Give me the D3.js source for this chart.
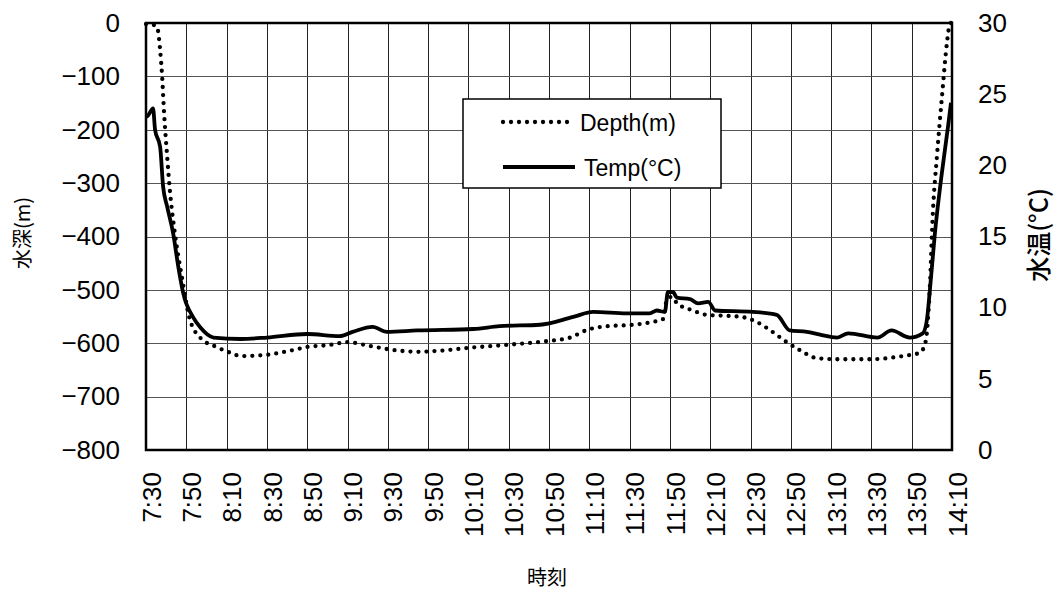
<!DOCTYPE html>
<html>
<head>
<meta charset="utf-8">
<script src="https://cdn.jsdelivr.net/npm/d3@7/dist/d3.min.js"></script>
<style>
  html, body { margin: 0; padding: 0; background: #fff; }
  svg { display: block; }
  .tick-label { font-family: "Liberation Sans", Arial, sans-serif; font-size: 26px; fill: #000; }
  .legend-text { font-family: "Liberation Sans", Arial, sans-serif; font-size: 23px; fill: #000; }
  .title-jp { font-family: "Noto Sans CJK JP", "Noto Sans", sans-serif; fill: #000; }
</style>
</head>
<body>
<svg id="chart" width="1059" height="594"></svg>
<script>
// Depth record (m) over the dive
const depthTimes = ["7:30:00","7:33:00","7:35:30","7:37:00","7:38:00","7:39:00","7:40:30","7:42:00","7:44:00","7:48:00",
  "7:51:30","7:57:00","8:05:00","8:12:00","8:17:00","8:29:00","8:41:30","8:50:00","9:01:30","9:10:00",
  "9:21:00","9:33:30","9:44:30","9:56:00","10:09:00","10:29:00","10:49:00","11:00:00","11:09:00","11:19:00",
  "11:30:00","11:41:30","11:46:30","11:48:30","11:51:00","11:53:30","12:01:00","12:08:30","12:20:00","12:26:00",
  "12:33:00","12:41:00","12:48:00","12:54:30","13:03:00","13:14:00","13:29:00","13:45:30","13:54:00","13:56:30",
  "13:57:30","13:59:00","14:00:30","14:02:30","14:05:00","14:07:30","14:08:30","14:09:30"];
const depthValues = [-2,-3,-8,-50,-100,-170,-250,-320,-385,-480,
  -552,-590,-607,-618,-624,-622,-614,-607,-603,-598,
  -605,-613,-616,-614,-609,-603,-596,-590,-575,-568,
  -566,-560,-555,-519,-513,-525,-538,-547,-549,-551,
  -560,-579,-598,-613,-628,-630,-630,-624,-618,-603,
  -581,-495,-356,-251,-139,-37,-9,0];

// Water temperature record (°C)
const tempTimes = ["7:30:00","7:31:00","7:33:30","7:34:30","7:37:00","7:38:30","7:40:30","7:43:30","7:46:00","7:48:30",
  "7:53:30","7:57:00","8:03:30","8:17:00","8:30:00","8:50:00","9:06:00","9:12:30","9:22:30","9:29:30",
  "9:44:30","10:12:30","10:25:30","10:45:30","11:02:00","11:12:00","11:28:30","11:40:00","11:43:30","11:47:30",
  "11:49:00","11:51:30","11:53:30","12:00:00","12:04:00","12:09:00","12:12:30","12:31:00","12:43:00","12:49:30",
  "12:58:00","13:04:30","13:13:00","13:18:30","13:33:00","13:40:00","13:49:00","13:55:30","13:57:30","13:59:00",
  "14:01:30","14:05:00","14:08:00","14:09:30"];
const tempValues = [23.4,23.5,24.0,22.5,21.3,18.5,17.1,15.2,12.9,11.0,
  9.3,8.6,7.9,7.8,7.9,8.15,8.0,8.3,8.65,8.3,
  8.4,8.5,8.7,8.8,9.35,9.7,9.6,9.6,9.8,9.7,
  11.1,11.1,10.7,10.6,10.3,10.4,9.8,9.7,9.5,8.4,
  8.3,8.1,7.9,8.2,7.9,8.4,7.9,8.2,9.1,11.2,
  15.2,19.5,22.7,24.4];

// Axis ticks
const timeTickLabels = ["7:30","7:50","8:10","8:30","8:50","9:10","9:30","9:50","10:10","10:30","10:50",
  "11:10","11:30","11:50","12:10","12:30","12:50","13:10","13:30","13:50","14:10"];
const depthTicks = [0,-100,-200,-300,-400,-500,-600,-700,-800];
const tempTicks = [0,5,10,15,20,25,30];

const seriesNames = ["Depth(m)", "Temp(°C)"];
const titles = { depth: "水深(m)", temp: "水温(°C)", time: "時刻" };

const svg = d3.select("#chart");
const margin = { left: 146, top: 23, right: 1059 - 952, bottom: 594 - 450 };
const W = 1059 - margin.left - margin.right;
const H = 594 - margin.top - margin.bottom;

const parseSec = d3.timeParse("%H:%M:%S");
const parseMin = d3.timeParse("%H:%M");

const x = d3.scaleTime()
  .domain([parseMin(timeTickLabels[0]), parseMin(timeTickLabels[timeTickLabels.length - 1])])
  .range([0, W]);
const yDepth = d3.scaleLinear().domain([-800, 0]).range([H, 0]);
const yTemp = d3.scaleLinear().domain([0, 30]).range([H, 0]);

const g = svg.append("g").attr("transform", `translate(${margin.left},${margin.top})`);

// Grid
const tickDates = timeTickLabels.map(parseMin);
g.append("g")
  .attr("class", "grid-x")
  .selectAll("line")
  .data(tickDates)
  .join("line")
  .attr("x1", d => Math.round(x(d)) + 0.5)
  .attr("x2", d => Math.round(x(d)) + 0.5)
  .attr("y1", 0).attr("y2", H)
  .attr("stroke", "#222").attr("stroke-width", 1);

g.append("g")
  .attr("class", "grid-y")
  .selectAll("line")
  .data(depthTicks)
  .join("line")
  .attr("x1", 0).attr("x2", W)
  .attr("y1", d => Math.round(yDepth(d)) + 0.5)
  .attr("y2", d => Math.round(yDepth(d)) + 0.5)
  .attr("stroke", "#555").attr("stroke-width", 1);

// Series
const depthData = depthTimes.map((t, i) => ({ t: parseSec(t), v: depthValues[i] }));
const tempData = tempTimes.map((t, i) => ({ t: parseSec(t), v: tempValues[i] }));

const depthLine = d3.line().x(d => x(d.t)).y(d => yDepth(d.v)).curve(d3.curveMonotoneX);
const tempLine = d3.line().x(d => x(d.t)).y(d => yTemp(d.v)).curve(d3.curveMonotoneX);

g.append("path")
  .datum(depthData)
  .attr("d", depthLine)
  .attr("fill", "none")
  .attr("stroke", "#000")
  .attr("stroke-width", 4.3)
  .attr("stroke-linecap", "round")
  .attr("stroke-dasharray", "0 8");

g.append("path")
  .datum(tempData)
  .attr("d", tempLine)
  .attr("fill", "none")
  .attr("stroke", "#000")
  .attr("stroke-width", 3.8)
  .attr("stroke-linejoin", "round");

// Plot frame
g.append("rect")
  .attr("x", 0).attr("y", 0).attr("width", W).attr("height", H)
  .attr("fill", "none").attr("stroke", "#000").attr("stroke-width", 2.5);

// Left axis labels
const fmt = d3.format("");
const leftAxis = d3.axisLeft(yDepth).tickValues(depthTicks).tickSize(0).tickPadding(26).tickFormat(fmt);
const la = g.append("g").call(leftAxis);
la.select(".domain").remove();
la.selectAll("text").attr("class", "tick-label").attr("font-size", null).attr("font-family", null);

// Right axis labels
const rightAxis = d3.axisRight(yTemp).tickValues(tempTicks).tickSize(0).tickPadding(26);
const ra = g.append("g").attr("transform", `translate(${W},0)`).call(rightAxis);
ra.select(".domain").remove();
ra.selectAll("text").attr("class", "tick-label").attr("font-size", null).attr("font-family", null);

// Bottom axis labels (rotated)
const bottomAxis = d3.axisBottom(x).tickValues(tickDates).tickSize(0).tickFormat(d3.timeFormat("%-H:%M"));
const ba = g.append("g").attr("transform", `translate(0,${H})`).call(bottomAxis);
ba.select(".domain").remove();
ba.selectAll("text")
  .attr("class", "tick-label")
  .attr("font-size", null).attr("font-family", null)
  .attr("text-anchor", "end")
  .attr("transform", "translate(5,22) rotate(-90)")
  .attr("x", 0).attr("y", 0).attr("dy", "0.35em");

// Axis titles
svg.append("text")
  .attr("class", "title-jp")
  .attr("transform", "translate(23,233) rotate(-90)")
  .attr("text-anchor", "middle")
  .attr("dy", "0.35em")
  .attr("font-size", 20)
  .text(titles.depth);

svg.append("text")
  .attr("class", "title-jp")
  .attr("transform", "translate(1039,235) rotate(-90)")
  .attr("text-anchor", "middle")
  .attr("dy", "0.35em")
  .attr("font-size", 25)
  .attr("font-weight", 500)
  .text(titles.temp);

svg.append("text")
  .attr("class", "title-jp")
  .attr("x", margin.left + W / 2 - 2)
  .attr("y", 578)
  .attr("text-anchor", "middle")
  .attr("dy", "0.35em")
  .attr("font-size", 20)
  .text(titles.time);

// Legend
const leg = svg.append("g").attr("transform", "translate(463,99)");
leg.append("rect")
  .attr("width", 258).attr("height", 89)
  .attr("fill", "#fff").attr("stroke", "#000").attr("stroke-width", 1.5);
leg.append("line")
  .attr("x1", 40).attr("x2", 106).attr("y1", 23).attr("y2", 23)
  .attr("stroke", "#000").attr("stroke-width", 4.3)
  .attr("stroke-linecap", "round").attr("stroke-dasharray", "0 8");
leg.append("line")
  .attr("x1", 40).attr("x2", 112).attr("y1", 68).attr("y2", 68)
  .attr("stroke", "#000").attr("stroke-width", 3.8);
leg.append("text").attr("class", "legend-text")
  .attr("x", 117).attr("y", 24).attr("dy", "0.35em").text(seriesNames[0]);
leg.append("text").attr("class", "legend-text")
  .attr("x", 121).attr("y", 69).attr("dy", "0.35em").text(seriesNames[1]);
</script>
</body>
</html>
